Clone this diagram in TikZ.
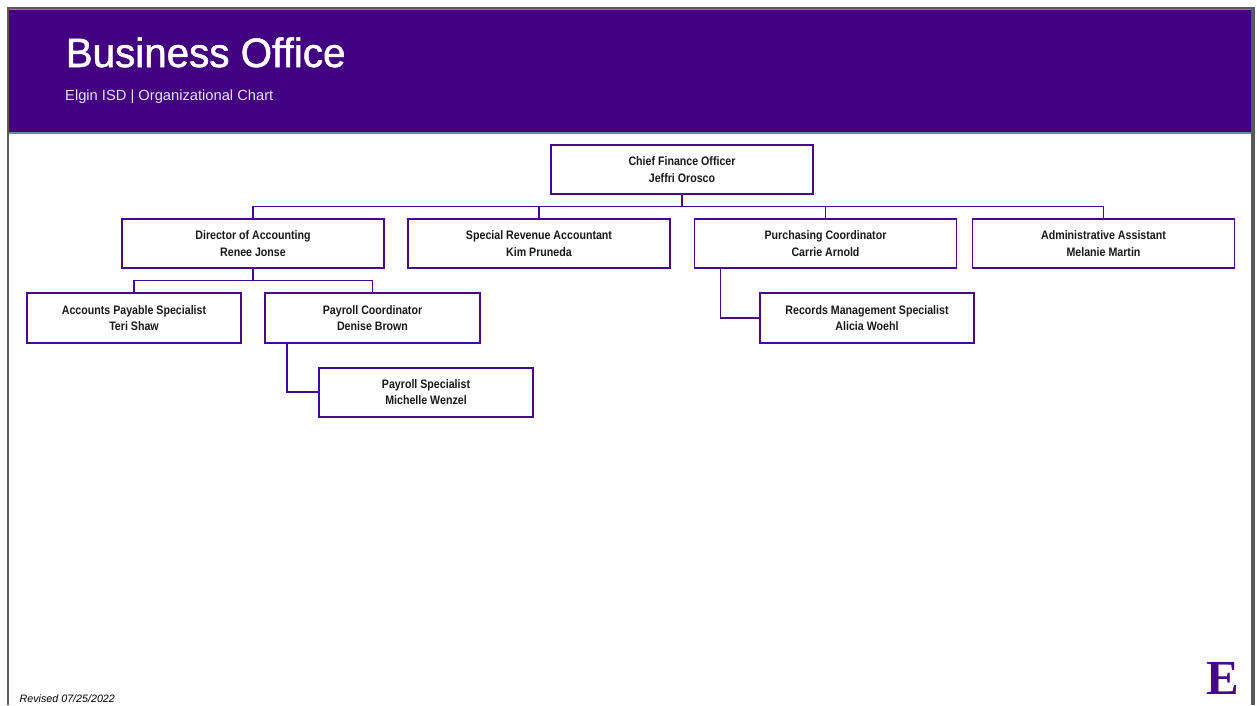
\documentclass[tikz,border=0pt]{standalone}
\usepackage{fontspec}
\setmainfont{Liberation Sans}
\newfontfamily\narrowbold[FakeStretch=0.865]{Liberation Sans Bold}
\newfontfamily\titlefont[FakeStretch=0.985,FakeBold=1.2]{Liberation Sans}
\begin{document}
\begin{tikzpicture}[x=1pt,y=-1pt,
  person/.style={draw=boxpurple,line width=1.9pt,fill=white,inner sep=0pt,align=center,
    font=\narrowbold\fontsize{12.3}{16.2}\selectfont,text=black!90},
  wide/.style={person,minimum width=262pt,minimum height=49.5pt},
  mid/.style={person,minimum width=214.5pt,minimum height=49.5pt},
  link/.style={draw=boxpurple,line width=1.9pt}]
\definecolor{boxpurple}{HTML}{46088C}
\definecolor{band}{HTML}{420080}
\definecolor{framegray}{HTML}{595959}
\definecolor{edge}{HTML}{5B8DB8}
\useasboundingbox (0,0) rectangle (1257,705);
\fill[white] (0,0) rectangle (1257,705);
\fill[framegray] (7,7) rectangle (1255,705);
\fill[white] (9,9) rectangle (1251,705);
\fill[band] (9,9) rectangle (1251,133);
\fill[edge] (9,9) rectangle (1251,10);
\fill[edge] (9,132) rectangle (1251,133.5);
\node[anchor=base west,inner sep=0pt,text=white,font=\titlefont\fontsize{41}{41}\selectfont] (title) at (65.5,67) {Business Office};
\node[anchor=base west,inner sep=0pt,text=white!90!blue,font=\fontsize{14.7}{16}\selectfont] (sub) at (65,100) {Elgin ISD | Organizational Chart};

\node[wide] (cfo) at (682,169.5) {Chief Finance Officer\\Jeffri Orosco};
\node[wide] (dir) at (253,243.5) {Director of Accounting\\Renee Jonse};
\node[wide] (srev) at (539,243.5) {Special Revenue Accountant\\Kim Pruneda};
\node[wide] (purch) at (825.5,243.5) {Purchasing Coordinator\\Carrie Arnold};
\node[wide] (admin) at (1103.5,243.5) {Administrative Assistant\\Melanie Martin};
\node[mid] (ap) at (134,318) {Accounts Payable Specialist\\Teri Shaw};
\node[mid] (pc) at (372.5,318) {Payroll Coordinator\\Denise Brown};
\node[mid] (rec) at (867,318) {Records Management Specialist\\Alicia Woehl};
\node[mid] (ps) at (426,392.3) {Payroll Specialist\\Michelle Wenzel};

\coordinate (bus1) at (682,206.5);
\coordinate (bus2) at (253,280.5);
\coordinate (elbowA) at (720.5,269);
\coordinate (elbowB) at (287,344);
\draw[link] (cfo.south) -- (bus1);
\draw[link] (dir.north) |- (bus1);
\draw[link] (srev.north) |- (bus1);
\draw[link] (purch.north) |- (bus1);
\draw[link] (admin.north) |- (bus1);
\draw[link] (dir.south) -- (bus2);
\draw[link] (ap.north) |- (bus2);
\draw[link] (pc.north) |- (bus2);
\draw[link] (elbowA) |- (rec.west);
\draw[link] (elbowB) |- (ps.west);

\node[anchor=base west,inner sep=0pt,font=\itshape\fontsize{10.7}{11}\selectfont] (rev) at (19.5,702.5) {Revised 07/25/2022};
\node[inner sep=0pt,text=boxpurple,font=\fontspec{Liberation Serif Bold}\fontsize{49}{49}\selectfont] (logo) at (1222.5,678) {E};
\end{tikzpicture}
\end{document}
